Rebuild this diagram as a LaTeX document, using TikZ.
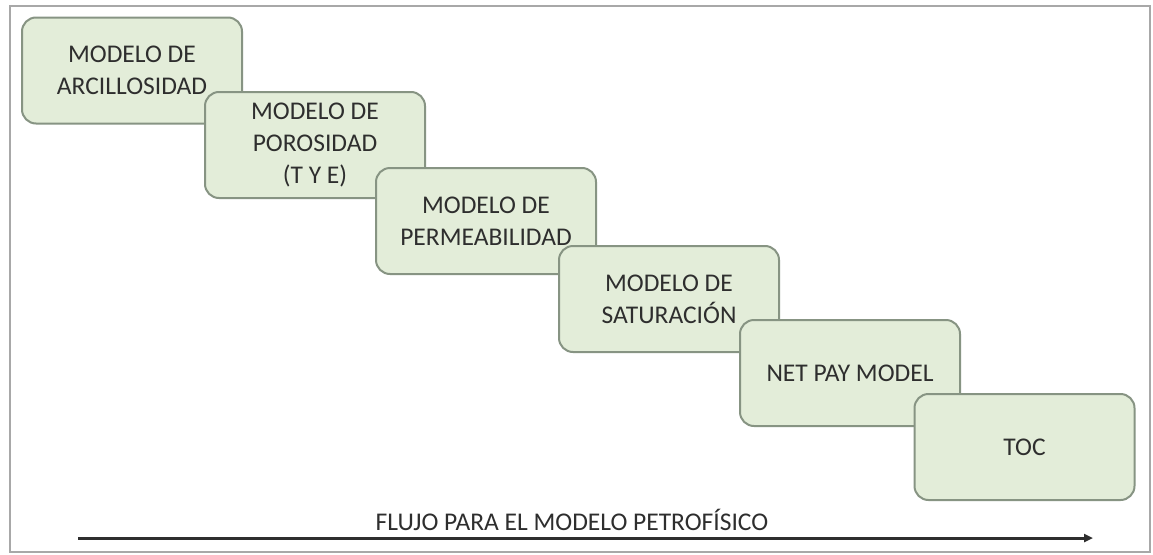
\documentclass[tikz,border=0pt]{standalone}
\usepackage{fontspec}
\setmainfont{Carlito}
\usetikzlibrary{arrows.meta}
\definecolor{boxfill}{HTML}{E3EDD9}
\definecolor{boxline}{HTML}{879483}
\definecolor{txt}{HTML}{2E2E2E}
\definecolor{frame}{HTML}{A8A8A8}
\tikzset{
  stage/.style={draw=boxline, line width=2pt, fill=boxfill, rounded corners=14pt,
    minimum width=220pt, minimum height=106pt, align=center, text=txt,
    font=\fontsize{25.5}{32}\selectfont, inner sep=0pt},
  flow/.style={draw=txt, line width=3pt, -{Triangle[length=9pt,width=8pt]}},
  caption/.style={text=txt, font=\fontsize{25.5}{30}\selectfont}
}
\begin{document}
\begin{tikzpicture}[x=1pt,y=-1pt]
\useasboundingbox (0,0) rectangle (1153,554);
\fill[white] (0,0) rectangle (1153,554);
\draw[frame, line width=1.5pt] (10,6) rectangle (1150,552);
\node[stage] (b1) at (132,70.5) {MODELO DE\\ARCILLOSIDAD};
\node[stage] (b2) at (315,145) {MODELO DE\\POROSIDAD\\(T Y E)};
\node[stage] (b3) at (486,221) {MODELO DE\\PERMEABILIDAD};
\node[stage] (b4) at (669,299) {MODELO DE\\SATURACIÓN};
\node[stage] (b5) at (850,373) {NET PAY MODEL};
\node[stage] (b6) at (1024.5,447) {TOC};
\node[caption] (lbl) at (572,520) {FLUJO PARA EL MODELO PETROFÍSICO};
\coordinate (fs) at (78,538);
\coordinate (fe) at (1093,538);
\draw[flow] (fs) -- (fe);
\end{tikzpicture}
\end{document}
